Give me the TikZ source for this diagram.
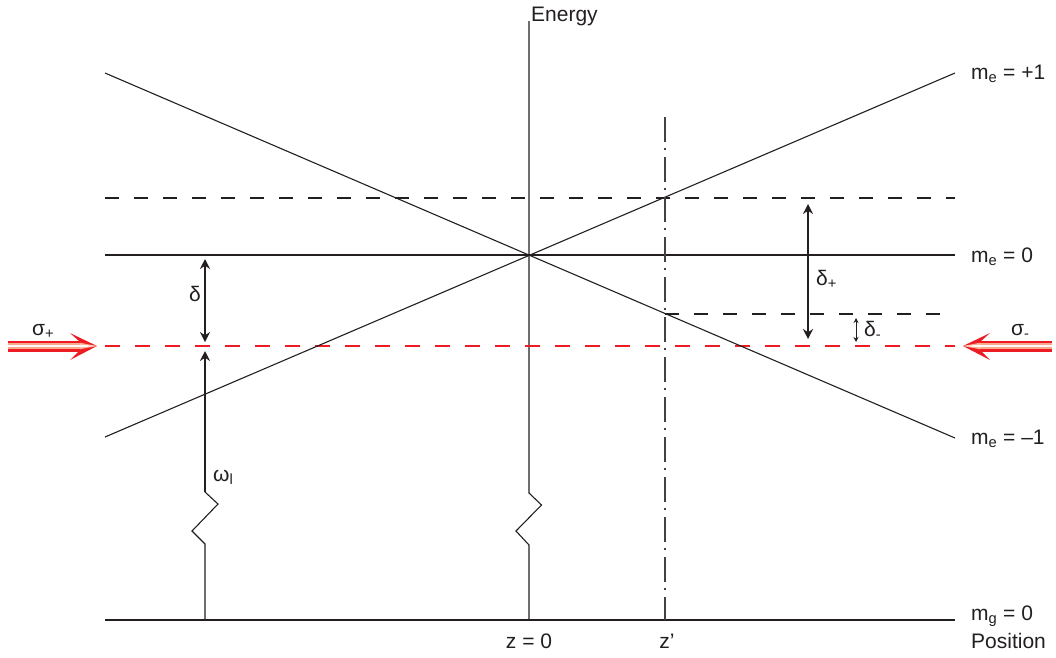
\documentclass[tikz,border=0pt]{standalone}
\usepackage{fontspec}
\setmainfont{Liberation Sans}
\usetikzlibrary{arrows.meta}
\definecolor{lred}{RGB}{237,28,36}
\definecolor{peach}{RGB}{249,170,140}
\definecolor{ink}{RGB}{35,31,32}
\tikzset{
  level/.style={draw=ink, line width=1.1pt},
  dashlevel/.style={draw=ink, line width=1.1pt, dash pattern=on 14pt off 15pt},
  laserline/.style={draw=lred, line width=1.1pt, dash pattern=on 15pt off 15pt},
  zline/.style={draw=ink!85, line width=1.1pt, dash pattern=on 25pt off 6pt on 2pt off 7pt},
  dimarrow/.style={draw=ink, line width=1.1pt, {Stealth[length=10pt,width=10pt]}-{Stealth[length=10pt,width=10pt]}},
  smallarrow/.style={draw=ink, line width=0.9pt, {Stealth[length=5pt,width=5pt]}-{Stealth[length=5pt,width=5pt]}},
  uparrow/.style={draw=ink, line width=1.1pt, -{Stealth[length=10pt,width=10pt]}},
  lbl/.style={font=\fontsize{21}{25}\selectfont, text=ink, inner sep=0pt, anchor=base west},
  lblc/.style={font=\fontsize{21}{25}\selectfont, text=ink, inner sep=0pt, anchor=base},
  redfill/.style={fill=lred, draw=none},
  peachfill/.style={fill=peach, draw=none},
  whitefill/.style={fill=white!92!peach, draw=none}
}
\begin{document}
\begin{tikzpicture}[x=1pt,y=-1pt]
\useasboundingbox (0,0) rectangle (1056,657);
% coordinates
\coordinate (eTop) at (529,21);
\coordinate (eZa) at (529,493);
\coordinate (eZb) at (541.5,505);
\coordinate (eZc) at (516,531);
\coordinate (eZd) at (529,545);
\coordinate (eBot) at (529,620);
\coordinate (gL) at (105,620);
\coordinate (gR) at (955,620);
\coordinate (m0L) at (105,255);
\coordinate (m0R) at (955,255);
\coordinate (uL) at (105,198);
\coordinate (uR) at (955,198);
\coordinate (rL) at (105,346);
\coordinate (rR) at (955,346);
\coordinate (lwL) at (665,314);
\coordinate (lwR) at (955,314);
\coordinate (p1L) at (105,437);
\coordinate (p1R) at (955,73);
\coordinate (n1L) at (105,73);
\coordinate (n1R) at (955,438);
\coordinate (zTop) at (665,117);
\coordinate (zBot) at (665,620);
\coordinate (dT) at (205,259);
\coordinate (dB) at (205,342);
\coordinate (wBot) at (205,620);
\coordinate (wZa) at (205,544);
\coordinate (wZb) at (192,531);
\coordinate (wZc) at (218,504);
\coordinate (wZd) at (205,492);
\coordinate (wTop) at (205,351);
\coordinate (dpT) at (808,204);
\coordinate (dpB) at (808,339);
\coordinate (dmT) at (856,318);
\coordinate (dmB) at (856,342);

% energy axis with break
\draw[level] (eTop) -- (eZa) -- (eZb) -- (eZc) -- (eZd) -- (eBot);
% levels
\draw[level] (gL) -- (gR);
\draw[level] (m0L) -- (m0R);
\draw[dashlevel] (uL) -- (uR);
\draw[dashlevel] (lwL) -- (lwR);
\draw[laserline] (rL) -- (rR);
\draw[level] (p1L) -- (p1R);
\draw[level] (n1L) -- (n1R);
\draw[zline] (zTop) -- (zBot);

% arrows
\draw[dimarrow] (dT) -- (dB);
\draw[level] (wBot) -- (wZa) -- (wZb) -- (wZc) -- (wZd);
\draw[uparrow] (wZd) -- (wTop);
\draw[dimarrow] (dpT) -- (dpB);
\draw[smallarrow] (dmT) -- (dmB);

% laser arrow sigma+
\coordinate (spS) at (8,346);
\coordinate (spT) at (97,346);
\fill[redfill] (8,340.5) rectangle (82,351.5);
\fill[redfill] (spT) -- (70,333) -- (80,342) -- (80,350) -- (70,360) -- cycle;
\fill[peachfill] (8,342.7) rectangle (80,349.3);
\fill[peachfill] (80,342.7) -- (97,346) -- (80,349.3) -- cycle;
\fill[whitefill] (8,344.6) rectangle (80,347.4);
\fill[whitefill] (80,344.6) -- (96,346) -- (80,347.4) -- cycle;
% laser arrow sigma-
\coordinate (smS) at (1052,346);
\coordinate (smT) at (963,346);
\fill[redfill] (978,340.5) rectangle (1052,351.5);
\fill[redfill] (smT) -- (990,333) -- (980,342) -- (980,350) -- (990,360) -- cycle;
\fill[peachfill] (980,342.7) rectangle (1052,349.3);
\fill[peachfill] (980,342.7) -- (963,346) -- (980,349.3) -- cycle;
\fill[whitefill] (980,344.6) rectangle (1052,347.4);
\fill[whitefill] (980,344.6) -- (964,346) -- (980,347.4) -- cycle;

% labels
\node[lbl] (tEnergy) at (531,21) {Energy};
\node[lbl] (tP1) at (971,79) {m\textsubscript{e} = +1};
\node[lbl] (t0) at (971,262) {m\textsubscript{e} = 0};
\node[lbl] (tM1) at (971,444) {m\textsubscript{e} = –1};
\node[lbl] (tG) at (971,620) {m\textsubscript{g} = 0};
\node[lbl] (tPos) at (971,648) {Position};
\node[lblc] (tZ0) at (529,648) {z = 0};
\node[lblc] (tZp) at (667,648) {z’};
\node[lbl] (tSp) at (32,335) {σ\textsubscript{+}};
\node[lbl] (tSm) at (1011,335) {σ\textsubscript{-}};
\node[lbl] (tD) at (189,301) {δ};
\node[lbl] (tDp) at (816,285) {δ\textsubscript{+}};
\node[lbl] (tDm) at (864,336) {δ\textsubscript{-}};
\node[lbl] (tW) at (213,481) {ω\textsubscript{l}};
\end{tikzpicture}
\end{document}
